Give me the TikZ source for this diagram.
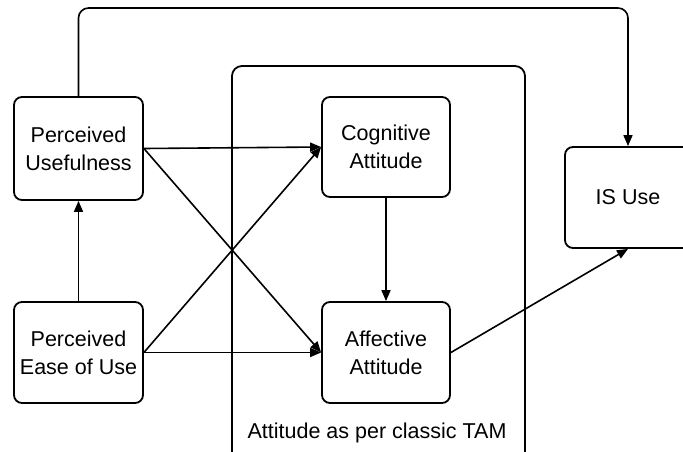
\documentclass[tikz,border=0pt]{standalone}
\usepackage{fontspec}
\setmainfont{Liberation Sans}
\usetikzlibrary{arrows.meta}
\begin{document}
\begin{tikzpicture}[x=1pt,y=-1pt,
  line width=1.8pt,
  box/.style={draw, rounded corners=8pt, align=center, inner sep=0pt,
    font=\fontsize{21.5}{28}\selectfont},
  link/.style={-{Triangle[length=11pt,width=9pt]}, line width=1.6pt}]
  \useasboundingbox (0,0) rectangle (683,451);
  % frame grouping the two attitude components
  \draw[rounded corners=10pt] (232,453) -- (232,66) -- (525,66) -- (525,453);
  \node[font=\fontsize{21.5}{26}\selectfont] (tam) at (377,433) {Attitude as per classic TAM};
  % constructs
  \node[box, minimum width=129pt, minimum height=103pt] (pu) at (78.5,148.5) {Perceived\\Usefulness};
  \node[box, minimum width=129pt, minimum height=101pt] (peou) at (78.5,352.5) {Perceived\\Ease of Use};
  \node[box, minimum width=128pt, minimum height=100pt] (cog) at (386,147) {Cognitive\\Attitude};
  \node[box, minimum width=128pt, minimum height=101pt] (aff) at (386,352.5) {Affective\\Attitude};
  \node[box, minimum width=126pt, minimum height=101pt] (use) at (628,197.5) {IS Use};
  % relations
  \draw[link] (pu.east) -- (cog.west);
  \draw[link] (pu.east) -- (aff.west);
  \draw[link] (peou.east) -- (cog.west);
  \draw[link] (peou.east) -- (aff.west);
  \draw[link] (peou.north) -- (pu.south);
  \draw[link] (cog.south) -- (aff.north);
  \draw[link] (aff.east) -- (use.south);
  \draw[link, rounded corners=10pt] (pu.north) |- (628,8) -- (use.north);
\end{tikzpicture}
\end{document}
